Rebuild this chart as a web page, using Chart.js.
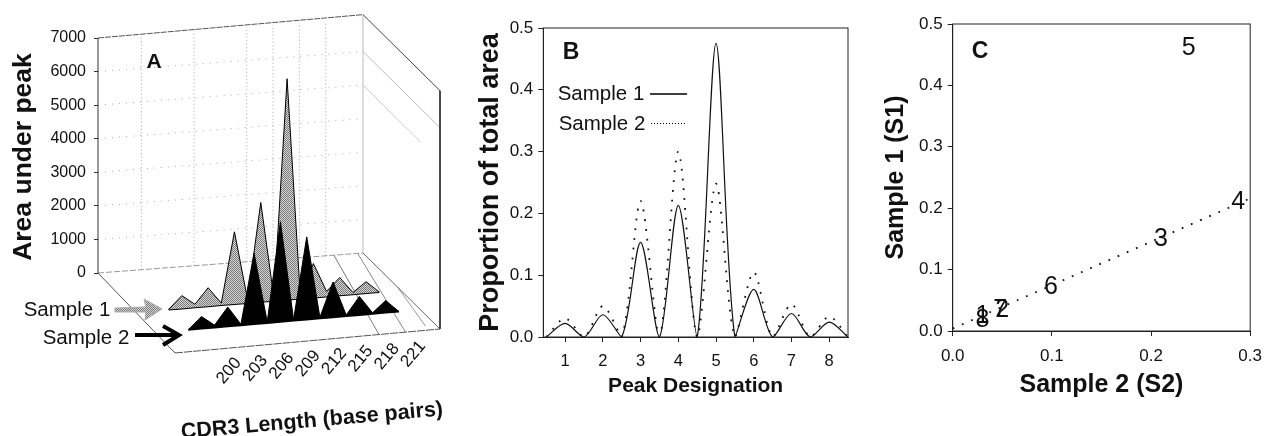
<!DOCTYPE html>
<html>
<head>
<meta charset="utf-8">
<style>
  html, body { margin: 0; padding: 0; background: #fff; width: 1272px; height: 436px; overflow: hidden; }
  canvas { position: absolute; top: 0; }
</style>
<script src="https://cdn.jsdelivr.net/npm/chart.js@4/dist/chart.umd.min.js"></script>
</head>
<body>
<canvas id="chartA" width="460" height="436" style="left:0"></canvas>
<canvas id="chartB" width="400" height="400" style="left:470px"></canvas>
<canvas id="chartC" width="392" height="400" style="left:880px"></canvas>
<script>
const FONT = '"Liberation Sans", Arial, sans-serif'
const INK = '#111'

// panel A: area under peak
const bpLevels = [198.5, 200, 201.5, 203, 204.5, 206, 207.5, 209, 210.5, 212, 213.5, 215, 216.5, 218, 219.5, 221, 222.5]
const areaSample1 = [0, 380, 90, 550, 60, 2150, 100, 2960, 80, 6580, 100, 1010, 150, 530, 50, 340, 0]
const areaSample2 = [0, 360, 70, 575, 30, 2110, 30, 2980, 30, 2460, 30, 1050, 30, 550, 30, 360, 0]
const lengthTicks = [200, 203, 206, 209, 212, 215, 218, 221]
const areaTicks = [0, 1000, 2000, 3000, 4000, 5000, 6000, 7000]
const wallGridBp = [199.7, 205.7, 211.7, 214.7, 217.7, 220.7]
const wallGridAreas = [1000, 2000, 3000, 4000, 5000, 6000]

// panel B: proportion of total area
const peakNumbers = [1, 2, 3, 4, 5, 6, 7, 8]
const propSample1 = [0.022, 0.036, 0.153, 0.213, 0.475, 0.077, 0.038, 0.024]
const propSample2 = [0.030, 0.050, 0.220, 0.300, 0.248, 0.105, 0.053, 0.033]
const propTicks = [0, 0.1, 0.2, 0.3, 0.4, 0.5]

// panel C: sample 1 vs sample 2
const scatterLabels = ['1', '2', '3', '4', '5', '6', '7', '8']
const scatterS2 = [0.030, 0.050, 0.210, 0.288, 0.238, 0.099, 0.048, 0.030]
const scatterS1 = [0.025, 0.034, 0.150, 0.210, 0.460, 0.072, 0.034, 0.017]
const trendS2 = [0, 0.3]
const trendS1 = [0.004, 0.216]
const s2Ticks = [0, 0.1, 0.2, 0.3]

function halftone() {
  const c = document.createElement('canvas')
  c.width = c.height = 2
  const g = c.getContext('2d')
  g.fillStyle = '#d8d8d8'
  g.fillRect(0, 0, 2, 2)
  g.fillStyle = '#777'
  g.fillRect(0, 0, 1, 1)
  g.fillRect(1, 1, 1, 1)
  return g.createPattern(c, 'repeat')
}
const shade = halftone()

// draws free text (and anything else) on top of a chart, in canvas pixels
function notes(id, items, extra) {
  return {
    id,
    afterDraw(chart) {
      const ctx = chart.ctx
      ctx.save()
      ctx.fillStyle = INK
      ctx.textAlign = 'center'
      ctx.textBaseline = 'middle'
      items.forEach(t => {
        ctx.save()
        ctx.translate(t.x, t.y)
        if (t.rot) ctx.rotate(t.rot * Math.PI / 180)
        ctx.font = t.font
        ctx.fillText(t.text, 0, 0)
        ctx.restore()
      })
      if (extra) extra(ctx, chart)
      ctx.restore()
    },
  }
}

// ── Panel A, a fake 3D floor ─────────────────────────────────────────────

const PX_PER_UNIT = 235 / 7000
const BP_LEFT = 194.75
const BP_SPAN = 30.2
const FLOOR = { fl: [175, 353], fr: [440, 329], bl: [98, 273], br: [363, 253] }
const lerp = (a, b, t) => a + (b - a) * t

// u across the lengths, d front (0) to back wall (1), v height in area units
function project(u, d, v) {
  const px = lerp(lerp(FLOOR.fl[0], FLOOR.fr[0], u), lerp(FLOOR.bl[0], FLOOR.br[0], u), d)
  const py = lerp(lerp(FLOOR.fl[1], FLOOR.fr[1], u), lerp(FLOOR.bl[1], FLOOR.br[1], u), d)
  return { x: px, y: (273 - py) / PX_PER_UNIT + (v || 0) }
}
const bpToU = bp => (bp - BP_LEFT) / BP_SPAN

function wallLine(from, to, color, dash, width) {
  return {
    type: 'line',
    data: [project(...from), project(...to)],
    borderColor: color,
    borderWidth: width || 1,
    borderDash: dash || [],
    pointRadius: 0,
    fill: false,
    clip: false,
    order: 10,
  }
}

function buildWalls() {
  const sets = [
    wallLine([0, 1, 0], [0, 1, 7000], '#333', null, 1),
    wallLine([0, 1, 7000], [1, 1, 7100], '#555', [6, 1], 1),
    wallLine([1, 1, 7100], [1, 0, 7100], '#444', null, 1),
    wallLine([1, 0, 7100], [1, 0, 0], '#333', null, 1),
    wallLine([1, 1, 0], [1, 1, 7100], '#bbb', null, 1),
    wallLine([0, 1, 0], [0, 0, 0], '#555', null, 1),
    wallLine([0, 0, 0], [1, 0, 0], '#555', [8, 1], 1),
    wallLine([1, 1, 0], [1, 0, 0], '#666', null, 1),
    wallLine([0, 1, 0], [1, 1, 0], '#999', [6, 2], 1),
    wallLine([1, 1, 6000], [1, 0, 6000], '#bbb', null, 1),
    wallLine([1, 1, 5000], [1, 0.25, 5000], '#ccc', null, 1),
    wallLine([0.89, 1, 0], [0.77, 0, 0], '#777', null, 1),
    wallLine([0.98, 1, 0], [0.87, 0, 0], '#888', null, 1),
    wallLine([1, 0.55, 0], [0.96, 0.05, 0], '#999', null, 1),
  ]
  wallGridBp.forEach(bp => {
    sets.push(wallLine([bpToU(bp), 1, 0], [bpToU(bp), 1, 7000], '#aaa', [1, 2.5]))
  })
  wallGridAreas.forEach(v => {
    sets.push(wallLine([0, 1, v], [1, 1, v], '#aaa', [1, 6]))
  })
  return sets
}

function sampleSeries(depth, values, fillColor, order) {
  const points = bpLevels.map((bp, i) => project(bpToU(bp), depth, values[i]))
  const base = bpLevels.map(bp => project(bpToU(bp), depth, 0))
  return [
    { type: 'line', data: points, borderColor: '#000', borderWidth: 1, backgroundColor: fillColor, fill: '+1', pointRadius: 0, tension: 0, clip: false, order },
    { type: 'line', data: base, borderColor: '#000', borderWidth: 2, pointRadius: 0, fill: false, clip: false, order },
  ]
}

function drawArrows(ctx) {
  // grey block arrow to Sample 1
  ctx.beginPath()
  ctx.moveTo(115, 308); ctx.lineTo(146, 307); ctx.lineTo(144, 299); ctx.lineTo(162, 309)
  ctx.lineTo(145, 320); ctx.lineTo(146, 312); ctx.lineTo(115, 312); ctx.closePath()
  ctx.fillStyle = shade
  ctx.fill()
  ctx.strokeStyle = '#aaa'
  ctx.lineWidth = 1
  ctx.stroke()
  // black arrow to Sample 2
  ctx.strokeStyle = '#000'
  ctx.lineWidth = 4
  ctx.beginPath()
  ctx.moveTo(135, 335); ctx.lineTo(178, 335)
  ctx.moveTo(163, 326); ctx.lineTo(179, 335); ctx.lineTo(163, 345)
  ctx.stroke()
  // rotated category labels under the front edge of the floor
  ctx.fillStyle = INK
  ctx.font = '17px ' + FONT
  lengthTicks.forEach(bp => {
    const p = project(bpToU(bp), 0, 0)
    ctx.save()
    ctx.translate(p.x + 8, 273 - p.y * PX_PER_UNIT + 22)
    ctx.rotate(-50 * Math.PI / 180)
    ctx.fillText(String(bp), 0, 0)
    ctx.restore()
  })
}

const notesA = notes('notesA', [
  { text: 'Area under peak', x: 24, y: 157, rot: -90, font: 'bold 26.5px ' + FONT },
  { text: 'A', x: 154, y: 62, font: 'bold 21px ' + FONT },
  { text: 'Sample 1', x: 67, y: 310, font: '20.5px ' + FONT },
  { text: 'Sample 2', x: 86, y: 338, font: '20.5px ' + FONT },
  { text: 'CDR3 Length (base pairs)', x: 312, y: 421, rot: -5, font: 'bold 21.5px ' + FONT },
], drawArrows)

new Chart(document.getElementById('chartA'), {
  type: 'line',
  data: {
    datasets: [
      ...sampleSeries(0.255, areaSample2, '#000', 1),
      ...sampleSeries(0.51, areaSample1, shade, 2),
      ...buildWalls(),
    ],
  },
  options: {
    responsive: false,
    animation: false,
    layout: { padding: { top: 20, right: 12, bottom: 76, left: 0 } },
    plugins: { legend: { display: false }, tooltip: { enabled: false } },
    scales: {
      x: { type: 'linear', display: false, min: 98, max: 448 },
      y: {
        min: (273 - 360) / PX_PER_UNIT,
        max: (273 - 20) / PX_PER_UNIT,
        border: { display: false },
        grid: { drawOnChartArea: false, tickLength: 4, color: '#333' },
        ticks: { color: INK, font: { family: FONT, size: 16 }, padding: 8, callback: v => String(v) },
        afterBuildTicks: s => { s.ticks = areaTicks.map(value => ({ value })) },
        afterFit: s => { s.width = 98 },
      },
    },
  },
  plugins: [notesA],
})

// ── Panel B ──────────────────────────────────────────────────────────────

function drawFrame(ctx, chart, color) {
  const a = chart.chartArea
  ctx.strokeStyle = color || '#222'
  ctx.lineWidth = 1
  ctx.strokeRect(a.left, a.top, a.right - a.left, a.bottom - a.top)
}

function bellPoints(values) {
  const pts = [{ x: 0.5, y: 0 }]
  peakNumbers.forEach((n, i) => {
    pts.push({ x: n, y: values[i] })
    pts.push({ x: n + 0.5, y: 0 })
  })
  return pts
}

function legendLines(ctx) {
  ctx.strokeStyle = '#000'
  ctx.lineWidth = 1.6
  ctx.beginPath(); ctx.moveTo(180, 94); ctx.lineTo(217, 94); ctx.stroke()
  ctx.lineWidth = 1.2
  ctx.setLineDash([1, 2])
  ctx.beginPath(); ctx.moveTo(181, 123.5); ctx.lineTo(217, 123.5); ctx.stroke()
  ctx.setLineDash([])
}

const notesB = notes('notesB', [
  { text: 'B', x: 101, y: 53, font: 'bold 23px ' + FONT },
  { text: 'Sample 1', x: 131, y: 94, font: '20.5px ' + FONT },
  { text: 'Sample 2', x: 132, y: 124, font: '20.5px ' + FONT },
], (ctx, chart) => { drawFrame(ctx, chart); legendLines(ctx) })

new Chart(document.getElementById('chartB'), {
  type: 'line',
  data: {
    datasets: [
      { label: 'Sample 1', data: bellPoints(propSample1), borderColor: '#111', borderWidth: 1.2, pointRadius: 0, tension: 0.3, order: 1 },
      { label: 'Sample 2', data: bellPoints(propSample2), borderColor: '#111', borderWidth: 1.8, borderDash: [1.8, 8], pointRadius: 0, tension: 0.3, order: 2 },
    ],
  },
  options: {
    responsive: false,
    animation: false,
    layout: { padding: { top: 28, right: 22, bottom: 0, left: 0 } },
    plugins: { legend: { display: false }, tooltip: { enabled: false } },
    scales: {
      x: {
        type: 'linear', min: 0.42, max: 8.5,
        border: { color: '#222' },
        grid: { drawOnChartArea: false, tickLength: 5, color: '#222' },
        ticks: { color: INK, font: { family: FONT, size: 16.5 }, padding: 10, maxRotation: 0 },
        title: { display: true, text: 'Peak Designation', color: INK, font: { family: FONT, size: 21, weight: 'bold' }, padding: { top: 0, bottom: 1 } },
        afterBuildTicks: s => { s.ticks = peakNumbers.map(value => ({ value })) },
        afterFit: s => { s.height = 63 },
      },
      y: {
        min: 0, max: 0.5,
        border: { color: '#222' },
        grid: { drawOnChartArea: false, tickLength: 5, color: '#222' },
        ticks: { color: INK, font: { family: FONT, size: 17 }, padding: 5, callback: v => v.toFixed(1) },
        title: { display: true, text: 'Proportion of total area', color: INK, font: { family: FONT, size: 27, weight: 'bold' }, padding: { top: 4, bottom: 0 } },
        afterBuildTicks: s => { s.ticks = propTicks.map(value => ({ value })) },
        afterFit: s => { s.width = 73.3 },
      },
    },
  },
  plugins: [notesB],
})

// ── Panel C ──────────────────────────────────────────────────────────────

function drawDigits(ctx, chart) {
  const meta = chart.getDatasetMeta(0)
  ctx.fillStyle = INK
  ctx.font = '25px ' + FONT
  meta.data.forEach((pt, i) => ctx.fillText(scatterLabels[i], pt.x, pt.y))
}

const notesC = notes('notesC', [
  { text: 'C', x: 100, y: 52, font: 'bold 23px ' + FONT },
], (ctx, chart) => { drawFrame(ctx, chart); drawDigits(ctx, chart) })

new Chart(document.getElementById('chartC'), {
  type: 'scatter',
  data: {
    datasets: [
      { data: scatterS2.map((x, i) => ({ x, y: scatterS1[i] })), pointRadius: 0, showLine: false },
      { data: trendS2.map((x, i) => ({ x, y: trendS1[i] })), showLine: true, pointRadius: 0, borderColor: '#111', borderWidth: 1.8, borderDash: [1.8, 8.2] },
    ],
  },
  options: {
    responsive: false,
    animation: false,
    layout: { padding: { top: 24, right: 15, bottom: 0, left: 0 } },
    plugins: { legend: { display: false }, tooltip: { enabled: false } },
    scales: {
      x: {
        type: 'linear', min: 0, max: 0.3,
        border: { color: '#222' },
        grid: { drawOnChartArea: false, tickLength: 5, color: '#222' },
        ticks: { color: INK, font: { family: FONT, size: 17 }, padding: 10, maxRotation: 0, callback: v => v.toFixed(1) },
        title: { display: true, text: 'Sample 2 (S2)', color: INK, font: { family: FONT, size: 25, weight: 'bold' }, padding: { top: 0, bottom: 0 } },
        afterBuildTicks: s => { s.ticks = s2Ticks.map(value => ({ value })) },
        afterFit: s => { s.height = 69 },
      },
      y: {
        min: 0, max: 0.5,
        border: { color: '#222' },
        grid: { drawOnChartArea: false, tickLength: 5, color: '#222' },
        ticks: { color: INK, font: { family: FONT, size: 17 }, padding: 5, callback: v => v.toFixed(1) },
        title: { display: true, text: 'Sample 1 (S1)', color: INK, font: { family: FONT, size: 25, weight: 'bold' }, padding: { top: 1, bottom: 0 } },
        afterBuildTicks: s => { s.ticks = propTicks.map(value => ({ value })) },
        afterFit: s => { s.width = 72.7 },
      },
    },
  },
  plugins: [notesC],
})
</script>
</body>
</html>
